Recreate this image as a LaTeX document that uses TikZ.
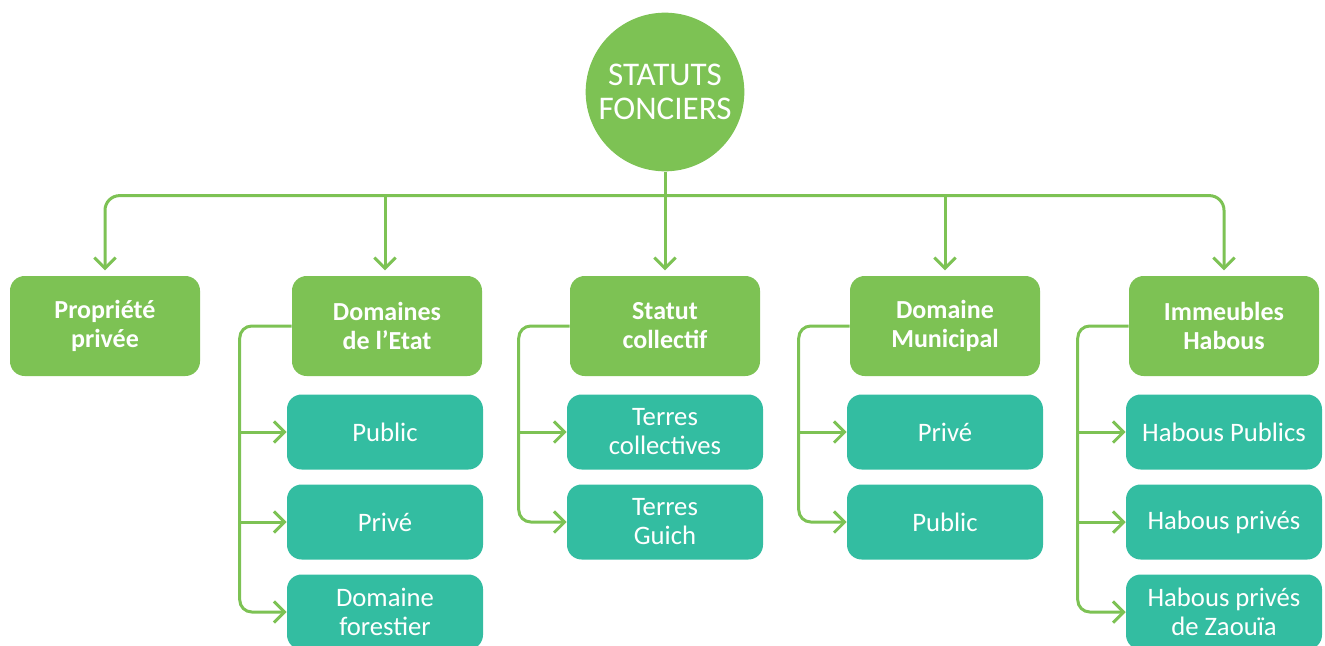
\documentclass[tikz,border=0pt]{standalone}
\usepackage{fontspec}
\setmainfont{Carlito}
\usetikzlibrary{arrows.meta,calc,positioning}
\definecolor{vert}{RGB}{125,194,84}
\definecolor{turq}{RGB}{51,189,161}

\begin{document}
\begin{tikzpicture}[x=0.75pt,y=-0.75pt,
	racine/.style={circle, fill=vert, text=white, minimum size=119pt, inner sep=0pt, align=center, font=\fontsize{24.8}{25}\selectfont},
	statut/.style={rectangle, rounded corners=11pt, fill=vert, text=white, minimum width=142.5pt, minimum height=75pt, align=center, font=\bfseries\fontsize{19.5}{21.75}\selectfont},
	sousstatut/.style={rectangle, rounded corners=11pt, fill=turq, text=white, minimum width=147pt, minimum height=56.25pt, align=center, font=\fontsize{20}{21.75}\selectfont},
	lien/.style={draw=vert, line width=2.25pt},
	fleche/.style={lien, -{Straight Barb[length=8pt,width=16pt]}}]
			\useasboundingbox (0,0) rectangle (1325,646);
			\node[racine] (racine) at (665,92) {STATUTS\\FONCIERS};
			\node[statut] (prop) at (105,326) {Propriété\\privée};
			\node[statut] (etat) at (387,326) {Domaines\\de l’Etat};
			\node[statut] (coll) at (665,326) {Statut\\collectif};
			\node[statut] (muni) at (945,326) {Domaine\\Municipal};
			\node[statut] (habous) at (1224,326) {Immeubles\\Habous};
			\node[sousstatut] (etat1) at (385,432) {Public};
			\node[sousstatut] (etat2) at (385,522) {Privé};
			\node[sousstatut] (etat3) at (385,612) {Domaine\\forestier};
			\node[sousstatut] (coll1) at (665,432) {Terres\\collectives};
			\node[sousstatut] (coll2) at (665,522) {Terres\\Guich};
			\node[sousstatut] (muni1) at (945,432) {Privé};
			\node[sousstatut] (muni2) at (945,522) {Public};
			\node[sousstatut] (habous1) at (1224,432) {Habous Publics};
			\node[sousstatut] (habous2) at (1224,522) {Habous privés};
			\node[sousstatut] (habous3) at (1224,612) {Habous privés\\de Zaouïa};
			% bus du haut
			\coordinate (bus) at ($(racine.south)+(0,24)$);
			\draw[lien] (racine.south) -- (bus);
			\draw[fleche, rounded corners=11pt, shorten >=4pt] (bus) -| (prop.north);
			\draw[fleche, rounded corners=11pt, shorten >=4pt] (bus) -| (habous.north);
			\draw[fleche, shorten >=4pt] (bus -| etat1.north) -- (etat.north -| etat1.north);
			\draw[fleche, shorten >=4pt] (bus) -- (coll.north);
			\draw[fleche, shorten >=4pt] (bus -| muni.north) -- (muni.north);
			% branches
			\coordinate (b-etat) at ($(etat.west)+(-52,0)$);
			\coordinate (b-coll) at ($(coll.west)+(-51,0)$);
			\coordinate (b-muni) at ($(muni.west)+(-51,0)$);
			\coordinate (b-habous) at ($(habous.west)+(-51,0)$);
			\draw[fleche, rounded corners=9pt] (etat.west) -- (b-etat) |- (etat3.west);
			\draw[fleche] (b-etat |- etat1.west) -- (etat1.west);
			\draw[fleche] (b-etat |- etat2.west) -- (etat2.west);
			\draw[fleche, rounded corners=9pt] (coll.west) -- (b-coll) |- (coll2.west);
			\draw[fleche] (b-coll |- coll1.west) -- (coll1.west);
			\draw[fleche, rounded corners=9pt] (muni.west) -- (b-muni) |- (muni2.west);
			\draw[fleche] (b-muni |- muni1.west) -- (muni1.west);
			\draw[fleche, rounded corners=9pt] (habous.west) -- (b-habous) |- (habous3.west);
			\draw[fleche] (b-habous |- habous1.west) -- (habous1.west);
			\draw[fleche] (b-habous |- habous2.west) -- (habous2.west);
	\end{tikzpicture}
\end{document}
